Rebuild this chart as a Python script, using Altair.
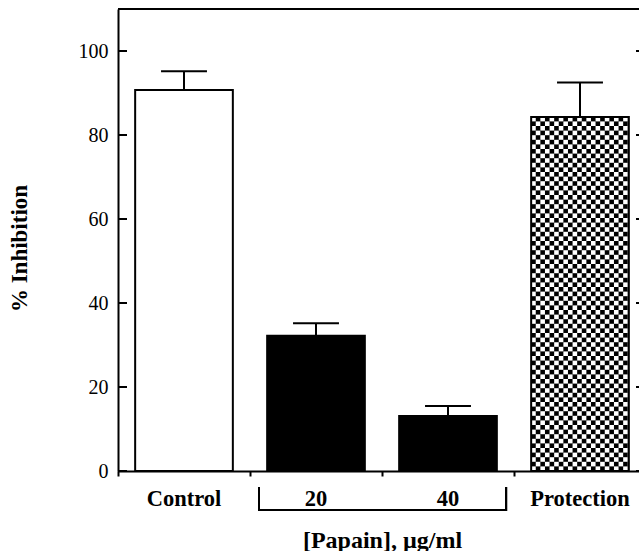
import altair as alt
import pandas as pd
import numpy as np

# ---- data ----
categories = ["Control", "20", "40", "Protection"]
inhibition = [90.7, 32.2, 13.1, 84.3]
sem = [4.5, 3.0, 2.4, 8.2]
bar_fill = ["white", "black", "black", "black"]
y_ticks = [0, 20, 40, 60, 80, 100]

# ---- layout constants ----
W, H = 521, 462
BAND_PX = 132
X_MAX = W / BAND_PX
Y_MAX = 110
FONT = "Liberation Serif"

df = pd.DataFrame({
    "cat": categories,
    "idx": list(range(len(categories))),
    "val": inhibition,
    "err": sem,
    "fill": bar_fill,
})

xscale = alt.Scale(domain=[0, X_MAX], nice=False, zero=False)
yscale = alt.Scale(domain=[0, Y_MAX], nice=False)

xaxis = alt.Axis(values=[0, 1, 2, 3], labels=False, tickSize=5,
                 tickWidth=2, tickColor="black", domainColor="black",
                 domainWidth=2, grid=False,
                 title="[Papain], µg/ml", titleFont=FONT,
                 titleFontSize=24, titleFontWeight="bold",
                 titleColor="black", titleX=264, titleY=69,
                 titleBaseline="middle", titleAlign="center")
yaxis = alt.Axis(values=y_ticks, ticks=False, labelFont=FONT,
                 labelFontSize=20, labelColor="black", labelPadding=10,
                 domainColor="black", domainWidth=2, grid=False,
                 title="% Inhibition", titleFont=FONT,
                 titleFontSize=23, titleFontWeight="bold",
                 titleColor="black", titleAngle=270, titleX=-99,
                 titleY=239, titleAlign="center",
                 titleBaseline="middle")


def X(f):
    return alt.X(f, scale=xscale, axis=xaxis)


def Y(f):
    return alt.Y(f, scale=yscale, axis=yaxis)


base = alt.Chart(df).transform_calculate(
    x0="datum.idx + 0.13",
    x1="datum.idx + 0.87",
    xc="datum.idx + 0.5",
    c0="datum.idx + 0.5 - 0.174",
    c1="datum.idx + 0.5 + 0.174",
    top="datum.val + datum.err",
)

bars = base.mark_rect(stroke=None).encode(
    x=X("x0:Q"), x2="x1:Q",
    y=Y("val:Q"), y2=alt.datum(0),
    fill=alt.Fill("fill:N", scale=None),
)

# checkerboard for the "Protection" bar
p_idx = categories.index("Protection")
sq_x = 4.6 / BAND_PX
sq_y = 4.6 * Y_MAX / H
px0, px1, ptop = p_idx + 0.13, p_idx + 0.87, inhibition[p_idx]
nx = int(np.ceil((px1 - px0) / sq_x))
ny = int(np.ceil(ptop / sq_y))
cells = []
for i in range(nx):
    for j in range(ny):
        if (i + j) % 2 == 0:
            cells.append({
                "a0": px0 + i * sq_x, "a1": min(px0 + (i + 1) * sq_x, px1),
                "b0": j * sq_y, "b1": min((j + 1) * sq_y, ptop),
            })
checker = alt.Chart(pd.DataFrame(cells)).mark_rect(fill="white").encode(
    x=X("a0:Q"), x2="a1:Q",
    y=Y("b0:Q"), y2="b1:Q",
)

outline = base.mark_rect(fillOpacity=0, stroke="black", strokeWidth=2).encode(
    x=X("x0:Q"), x2="x1:Q",
    y=Y("val:Q"), y2=alt.datum(0),
)

err_v = base.mark_rule(color="black", strokeWidth=2).encode(
    x=X("xc:Q"),
    y=Y("val:Q"), y2="top:Q",
)
err_cap = base.mark_rule(color="black", strokeWidth=2).encode(
    x=X("c0:Q"), x2="c1:Q",
    y=Y("top:Q"),
)

cat_labels = base.mark_text(font=FONT, fontSize=22.5, fontWeight="bold",
                            color="black", baseline="middle").encode(
    x=X("xc:Q"),
    y=alt.value(H + 28),
    text="cat:N",
)

tick_df = pd.DataFrame({"t": y_ticks})
left_ticks = alt.Chart(tick_df).mark_rule(color="black", strokeWidth=2).encode(
    y=Y("t:Q"),
    x=alt.value(0), x2=alt.value(9),
)
right_ticks = alt.Chart(tick_df).mark_rule(color="black", strokeWidth=2).encode(
    y=Y("t:Q"),
    x=alt.value(W - 3), x2=alt.value(W),
)

top_line = alt.Chart(df).mark_rule(color="black", strokeWidth=2).encode(
    x=alt.value(0), x2=alt.value(W), y=alt.value(0),
)

bracket_h = alt.Chart(df).mark_rule(color="black", strokeWidth=2).encode(
    x=alt.value(1.068 * BAND_PX), x2=alt.value(2.94 * BAND_PX),
    y=alt.value(H + 39),
)
bracket_l = alt.Chart(df).mark_rule(color="black", strokeWidth=2).encode(
    x=alt.value(1.068 * BAND_PX), y=alt.value(H + 16), y2=alt.value(H + 40),
)
bracket_r = alt.Chart(df).mark_rule(color="black", strokeWidth=2).encode(
    x=alt.value(2.94 * BAND_PX), y=alt.value(H + 16), y2=alt.value(H + 40),
)

chart = alt.layer(
    bars, checker, outline, err_v, err_cap, cat_labels,
    left_ticks, right_ticks, top_line, bracket_h, bracket_l, bracket_r,
).properties(
    width=W, height=H,
    autosize=alt.AutoSizeParams(type="none"),
    padding={"left": 118, "top": 9, "right": 0, "bottom": 80},
    background="white",
).configure_view(stroke=None)

chart.save("out.html", embed_options={"renderer": "svg", "actions": False})
